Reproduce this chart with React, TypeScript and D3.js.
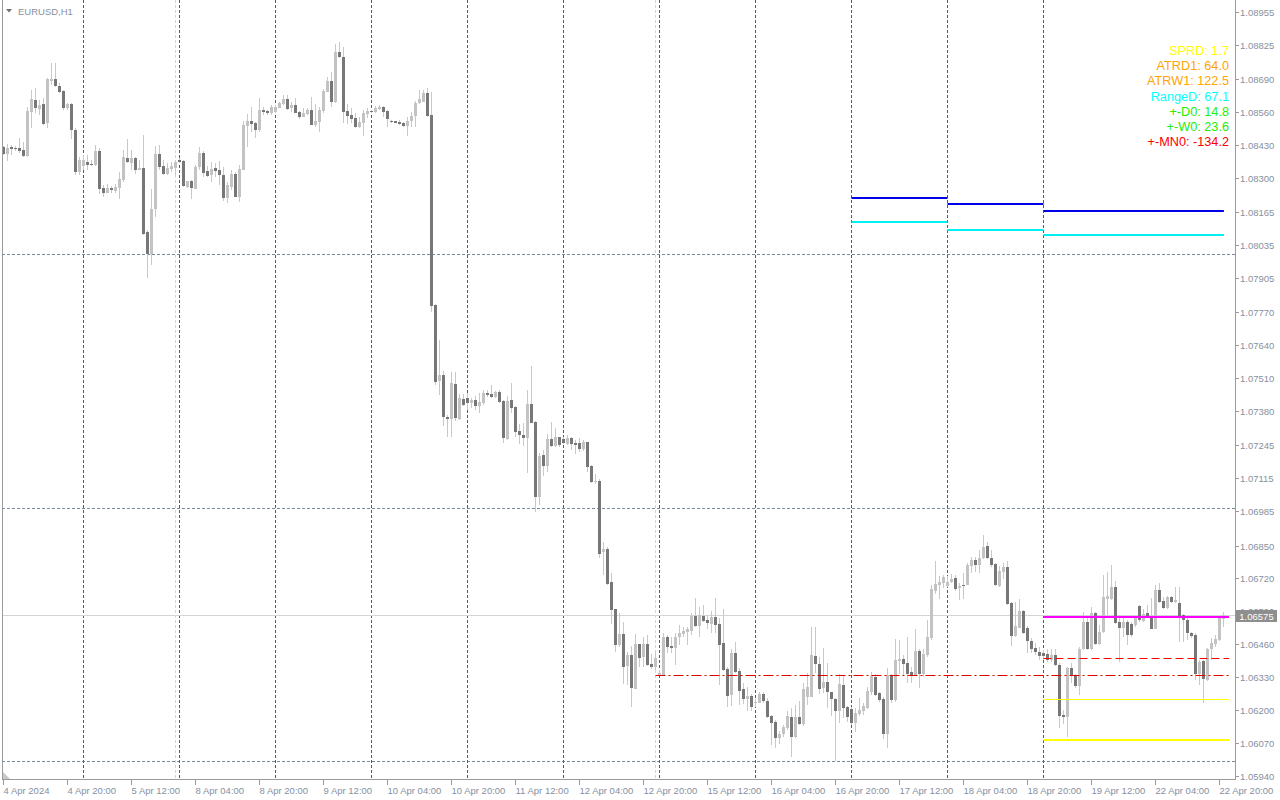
import React from "react";
import * as d3 from "d3";

// ---- EURUSD H1 bars (4 Apr 2024 04:00 -> 22 Apr 2024 21:00) ----
const opens = [
  1.08421,1.08396,1.08422,1.08418,1.08418,1.08410,1.08387,1.08561,1.08608,1.08573,
  1.08592,1.08518,1.08682,1.08690,1.08664,1.08643,1.08577,1.08592,1.08490,1.08325,
  1.08347,1.08363,1.08355,1.08351,1.08406,1.08260,1.08242,1.08262,1.08250,1.08262,
  1.08292,1.08379,1.08360,1.08379,1.08333,1.08339,1.08087,1.08000,1.08178,1.08395,
  1.08347,1.08316,1.08335,1.08339,1.08372,1.08368,1.08265,1.08288,1.08258,1.08343,
  1.08398,1.08327,1.08312,1.08340,1.08331,1.08312,1.08222,1.08265,1.08316,1.08226,
  1.08331,1.08506,1.08526,1.08516,1.08489,1.08568,1.08564,1.08556,1.08561,1.08577,
  1.08592,1.08612,1.08576,1.08589,1.08561,1.08542,1.08553,1.08568,1.08510,1.08522,
  1.08565,1.08640,1.08684,1.08601,1.08798,1.08778,1.08564,1.08548,1.08538,1.08501,
  1.08518,1.08552,1.08564,1.08560,1.08573,1.08579,1.08564,1.08526,1.08523,1.08521,
  1.08517,1.08505,1.08525,1.08544,1.08597,1.08601,1.08636,1.08548,1.07799,1.07500,
  1.07523,1.07358,1.07350,1.07487,1.07349,1.07428,1.07432,1.07413,1.07424,1.07400,
  1.07413,1.07452,1.07448,1.07437,1.07456,1.07420,1.07270,1.07424,1.07396,1.07302,
  1.07286,1.07274,1.07408,1.07337,1.07043,1.07207,1.07164,1.07270,1.07243,1.07278,
  1.07270,1.07250,1.07274,1.07254,1.07254,1.07231,1.07258,1.07164,1.07102,1.07104,
  1.06824,1.06836,1.06706,1.06601,1.06458,1.06501,1.06375,1.06418,1.06285,1.06461,
  1.06411,1.06461,1.06383,1.06371,1.06339,1.06339,1.06490,1.06455,1.06447,1.06488,
  1.06501,1.06508,1.06514,1.06572,1.06534,1.06572,1.06556,1.06540,1.06569,1.06540,
  1.06465,1.06364,1.06261,1.06426,1.06355,1.06285,1.06243,1.06256,1.06229,1.06230,
  1.06264,1.06237,1.06177,1.06154,1.06092,1.06105,1.06131,1.06175,1.06096,1.06175,
  1.06145,1.06254,1.06254,1.06414,1.06381,1.06287,1.06310,1.06271,1.06245,1.06198,
  1.06300,1.06212,1.06204,1.06151,1.06185,1.06198,1.06210,1.06273,1.06331,1.06268,
  1.06245,1.06106,1.06339,1.06241,1.06394,1.06403,1.06387,1.06352,1.06339,1.06434,
  1.06343,1.06418,1.06486,1.06672,1.06694,1.06703,1.06691,1.06705,1.06723,1.06682,
  1.06694,1.06694,1.06770,1.06793,1.06773,1.06801,1.06848,1.06801,1.06777,1.06691,
  1.06747,1.06765,1.06623,1.06493,1.06526,1.06592,1.06525,1.06475,1.06446,1.06431,
  1.06425,1.06421,1.06398,1.06417,1.06379,1.06181,1.06172,1.06366,1.06335,1.06296,
  1.06442,1.06549,1.06442,1.06585,1.06461,1.06510,1.06640,1.06640,1.06688,1.06549,
  1.06523,1.06549,1.06540,1.06536,1.06611,1.06553,1.06585,1.06572,1.06522,1.06675,
  1.06632,1.06605,1.06646,1.06628,1.06624,1.06576,1.06556,1.06506,1.06497,1.06342,
  1.06394,1.06319,1.06442,1.06460,1.06477,1.06560,
];
const highs = [
  1.08426,1.08434,1.08430,1.08426,1.08458,1.08443,1.08581,1.08647,1.08655,1.08608,
  1.08615,1.08694,1.08752,1.08752,1.08673,1.08647,1.08595,1.08595,1.08496,1.08384,
  1.08391,1.08391,1.08371,1.08430,1.08418,1.08272,1.08276,1.08268,1.08276,1.08325,
  1.08410,1.08452,1.08410,1.08384,1.08371,1.08469,1.08095,1.08256,1.08426,1.08430,
  1.08371,1.08358,1.08364,1.08371,1.08378,1.08371,1.08288,1.08292,1.08351,1.08421,
  1.08408,1.08347,1.08364,1.08360,1.08367,1.08344,1.08285,1.08331,1.08325,1.08351,
  1.08526,1.08552,1.08581,1.08522,1.08614,1.08579,1.08568,1.08588,1.08588,1.08601,
  1.08627,1.08627,1.08601,1.08614,1.08565,1.08575,1.08575,1.08618,1.08592,1.08579,
  1.08650,1.08699,1.08719,1.08828,1.08838,1.08815,1.08592,1.08575,1.08555,1.08542,
  1.08568,1.08575,1.08568,1.08584,1.08588,1.08584,1.08568,1.08529,1.08526,1.08529,
  1.08522,1.08539,1.08561,1.08605,1.08647,1.08647,1.08654,1.08640,1.07803,1.07661,
  1.07540,1.07365,1.07534,1.07534,1.07448,1.07448,1.07450,1.07431,1.07440,1.07450,
  1.07464,1.07464,1.07483,1.07461,1.07464,1.07424,1.07440,1.07490,1.07400,1.07329,
  1.07332,1.07464,1.07558,1.07342,1.07214,1.07227,1.07290,1.07337,1.07314,1.07279,
  1.07279,1.07286,1.07279,1.07266,1.07273,1.07266,1.07260,1.07168,1.07132,1.07112,
  1.06863,1.06845,1.06740,1.06601,1.06583,1.06549,1.06431,1.06454,1.06501,1.06461,
  1.06490,1.06496,1.06422,1.06435,1.06359,1.06506,1.06497,1.06490,1.06504,1.06536,
  1.06527,1.06530,1.06585,1.06642,1.06609,1.06615,1.06576,1.06592,1.06642,1.06563,
  1.06600,1.06372,1.06441,1.06469,1.06366,1.06306,1.06293,1.06263,1.06246,1.06273,
  1.06273,1.06247,1.06181,1.06162,1.06119,1.06142,1.06197,1.06208,1.06221,1.06238,
  1.06306,1.06346,1.06529,1.06530,1.06411,1.06445,1.06385,1.06273,1.06247,1.06343,
  1.06339,1.06217,1.06214,1.06208,1.06247,1.06230,1.06293,1.06352,1.06343,1.06273,
  1.06254,1.06366,1.06343,1.06482,1.06477,1.06418,1.06488,1.06372,1.06522,1.06441,
  1.06441,1.06556,1.06694,1.06790,1.06730,1.06734,1.06730,1.06738,1.06734,1.06701,
  1.06740,1.06782,1.06803,1.06803,1.06832,1.06891,1.06865,1.06832,1.06782,1.06769,
  1.06782,1.06790,1.06628,1.06628,1.06638,1.06596,1.06533,1.06484,1.06467,1.06451,
  1.06438,1.06441,1.06441,1.06441,1.06385,1.06201,1.06372,1.06385,1.06343,1.06451,
  1.06589,1.06569,1.06609,1.06589,1.06536,1.06734,1.06747,1.06773,1.06711,1.06576,
  1.06569,1.06556,1.06549,1.06572,1.06615,1.06598,1.06615,1.06642,1.06694,1.06701,
  1.06648,1.06651,1.06651,1.06688,1.06685,1.06580,1.06563,1.06510,1.06504,1.06398,
  1.06398,1.06445,1.06484,1.06497,1.06572,1.06589,
];
const lows = [
  1.08391,1.08368,1.08391,1.08406,1.08398,1.08384,1.08384,1.08496,1.08556,1.08548,
  1.08509,1.08497,1.08667,1.08660,1.08634,1.08568,1.08568,1.08454,1.08312,1.08312,
  1.08331,1.08331,1.08347,1.08347,1.08237,1.08224,1.08239,1.08242,1.08242,1.08216,
  1.08285,1.08358,1.08331,1.08316,1.08331,1.08075,1.07904,1.07957,1.08147,1.08331,
  1.08310,1.08310,1.08325,1.08312,1.08360,1.08265,1.08259,1.08218,1.08255,1.08331,
  1.08305,1.08305,1.08285,1.08305,1.08272,1.08210,1.08200,1.08252,1.08224,1.08206,
  1.08331,1.08423,1.08482,1.08456,1.08482,1.08547,1.08550,1.08548,1.08557,1.08575,
  1.08589,1.08568,1.08561,1.08555,1.08531,1.08539,1.08548,1.08508,1.08502,1.08482,
  1.08555,1.08640,1.08581,1.08595,1.08772,1.08516,1.08513,1.08516,1.08496,1.08496,
  1.08466,1.08535,1.08556,1.08555,1.08568,1.08542,1.08502,1.08516,1.08516,1.08509,
  1.08502,1.08466,1.08502,1.08502,1.08592,1.08601,1.08539,1.07772,1.07483,1.07444,
  1.07321,1.07277,1.07279,1.07342,1.07345,1.07400,1.07385,1.07391,1.07385,1.07372,
  1.07404,1.07435,1.07431,1.07431,1.07413,1.07256,1.07266,1.07372,1.07279,1.07250,
  1.07243,1.07137,1.07332,1.06983,1.07010,1.07124,1.07141,1.07240,1.07240,1.07240,
  1.07250,1.07247,1.07227,1.07211,1.07220,1.07224,1.07141,1.07095,1.07093,1.06802,
  1.06734,1.06695,1.06540,1.06431,1.06451,1.06304,1.06300,1.06214,1.06283,1.06370,
  1.06372,1.06375,1.06362,1.06359,1.06335,1.06335,1.06425,1.06425,1.06379,1.06458,
  1.06490,1.06458,1.06497,1.06530,1.06490,1.06549,1.06519,1.06506,1.06504,1.06300,
  1.06356,1.06212,1.06217,1.06346,1.06221,1.06225,1.06198,1.06197,1.06214,1.06228,
  1.06230,1.06171,1.06063,1.06050,1.06066,1.06096,1.06122,1.06015,1.06089,1.06142,
  1.06138,1.06220,1.06252,1.06346,1.06264,1.06267,1.06208,1.06177,1.06001,1.06149,
  1.06168,1.06155,1.06142,1.06116,1.06177,1.06181,1.06204,1.06260,1.06256,1.06234,
  1.06085,1.06050,1.06230,1.06234,1.06343,1.06339,1.06309,1.06306,1.06336,1.06287,
  1.06333,1.06411,1.06477,1.06659,1.06638,1.06681,1.06688,1.06701,1.06672,1.06635,
  1.06638,1.06694,1.06743,1.06747,1.06740,1.06796,1.06796,1.06766,1.06690,1.06688,
  1.06717,1.06615,1.06454,1.06490,1.06523,1.06501,1.06425,1.06425,1.06418,1.06398,
  1.06398,1.06392,1.06392,1.06375,1.06129,1.06145,1.06096,1.06306,1.06287,1.06260,
  1.06438,1.06438,1.06438,1.06458,1.06458,1.06506,1.06576,1.06635,1.06540,1.06392,
  1.06490,1.06458,1.06490,1.06530,1.06549,1.06549,1.06563,1.06519,1.06519,1.06624,
  1.06598,1.06598,1.06624,1.06624,1.06471,1.06471,1.06477,1.06484,1.06319,1.06300,
  1.06230,1.06315,1.06398,1.06451,1.06475,1.06530,
];
const closes = [
  1.08396,1.08418,1.08414,1.08415,1.08408,1.08387,1.08565,1.08612,1.08577,1.08588,
  1.08514,1.08690,1.08690,1.08664,1.08638,1.08577,1.08592,1.08490,1.08325,1.08371,
  1.08372,1.08351,1.08351,1.08406,1.08258,1.08242,1.08260,1.08254,1.08265,1.08297,
  1.08383,1.08364,1.08379,1.08333,1.08339,1.08080,1.08000,1.08178,1.08395,1.08343,
  1.08316,1.08340,1.08347,1.08363,1.08364,1.08268,1.08288,1.08262,1.08343,1.08398,
  1.08321,1.08309,1.08335,1.08329,1.08312,1.08222,1.08272,1.08316,1.08226,1.08335,
  1.08509,1.08526,1.08513,1.08489,1.08568,1.08560,1.08556,1.08581,1.08581,1.08597,
  1.08612,1.08572,1.08589,1.08557,1.08542,1.08556,1.08568,1.08510,1.08525,1.08568,
  1.08644,1.08684,1.08601,1.08798,1.08776,1.08561,1.08544,1.08534,1.08501,1.08521,
  1.08557,1.08565,1.08560,1.08575,1.08581,1.08560,1.08534,1.08521,1.08518,1.08513,
  1.08505,1.08525,1.08544,1.08597,1.08610,1.08636,1.08546,1.07796,1.07496,1.07523,
  1.07358,1.07350,1.07492,1.07354,1.07432,1.07404,1.07413,1.07424,1.07400,1.07416,
  1.07452,1.07445,1.07437,1.07456,1.07416,1.07274,1.07420,1.07393,1.07298,1.07286,
  1.07274,1.07408,1.07335,1.07043,1.07203,1.07164,1.07270,1.07243,1.07278,1.07247,
  1.07254,1.07274,1.07250,1.07247,1.07231,1.07258,1.07160,1.07101,1.07104,1.06818,
  1.06836,1.06698,1.06596,1.06458,1.06501,1.06372,1.06418,1.06289,1.06461,1.06407,
  1.06461,1.06379,1.06371,1.06405,1.06346,1.06490,1.06451,1.06447,1.06490,1.06504,
  1.06514,1.06519,1.06572,1.06534,1.06576,1.06553,1.06543,1.06569,1.06538,1.06458,
  1.06360,1.06258,1.06427,1.06352,1.06277,1.06243,1.06258,1.06214,1.06231,1.06264,
  1.06238,1.06175,1.06151,1.06092,1.06106,1.06134,1.06177,1.06096,1.06175,1.06145,
  1.06284,1.06293,1.06418,1.06381,1.06285,1.06310,1.06271,1.06243,1.06198,1.06304,
  1.06210,1.06175,1.06151,1.06190,1.06201,1.06217,1.06276,1.06335,1.06261,1.06241,
  1.06106,1.06339,1.06241,1.06398,1.06403,1.06383,1.06343,1.06339,1.06434,1.06343,
  1.06422,1.06490,1.06677,1.06698,1.06707,1.06727,1.06707,1.06718,1.06680,1.06690,
  1.06691,1.06773,1.06793,1.06773,1.06801,1.06843,1.06802,1.06773,1.06694,1.06751,
  1.06765,1.06620,1.06493,1.06533,1.06592,1.06506,1.06475,1.06441,1.06430,1.06414,
  1.06414,1.06398,1.06417,1.06379,1.06179,1.06172,1.06366,1.06335,1.06296,1.06442,
  1.06549,1.06442,1.06585,1.06461,1.06510,1.06648,1.06651,1.06688,1.06543,1.06523,
  1.06549,1.06497,1.06497,1.06563,1.06556,1.06580,1.06572,1.06522,1.06675,1.06628,
  1.06605,1.06646,1.06628,1.06635,1.06573,1.06556,1.06506,1.06494,1.06342,1.06392,
  1.06323,1.06442,1.06464,1.06481,1.06563,1.06575,
];

// ---- axis labels ----
const timeLabels = [
  "4 Apr 2024", "4 Apr 20:00", "5 Apr 12:00", "8 Apr 04:00", "8 Apr 20:00",
  "9 Apr 12:00", "10 Apr 04:00", "10 Apr 20:00", "11 Apr 12:00", "12 Apr 04:00",
  "12 Apr 20:00", "15 Apr 12:00", "16 Apr 04:00", "16 Apr 20:00", "17 Apr 12:00",
  "18 Apr 04:00", "18 Apr 20:00", "19 Apr 12:00", "22 Apr 04:00", "22 Apr 20:00",
];
const timeLabelStep = 16; // bars between time labels
const priceTicks = [
  1.08955, 1.08825, 1.0869, 1.0856, 1.0843, 1.083, 1.08165, 1.08035, 1.07905, 1.0777,
  1.0764, 1.0751, 1.0738, 1.07245, 1.07115, 1.06985, 1.0685, 1.0672, 1.0659, 1.0646,
  1.0633, 1.062, 1.0607, 1.0594,
];
const gridPrices = [1.08, 1.07, 1.06];
const separatorBars = [20, 44, 68, 92, 116, 140, 164, 188, 212, 236, 260];
const weekMarkerBars = [43, 163];

// ---- indicator levels ----
const blueLevels = [
  { from: 212, to: 236, price: 1.08221 },
  { from: 236, to: 260, price: 1.08197 },
  { from: 260, to: 305.1, price: 1.0817 },
];
const cyanLevels = [
  { from: 212, to: 236, price: 1.08126 },
  { from: 236, to: 260, price: 1.08095 },
  { from: 260, to: 305.1, price: 1.08075 },
];
const levelLines = [
  { from: 260, to: 306.4, price: 1.06568, color: "#ff00ff", width: 2, dash: "" },
  { from: 260, to: 306.4, price: 1.06406, color: "#ff0000", width: 1, dash: "8,4" },
  { from: 163, to: 306.4, price: 1.06339, color: "#e00000", width: 1, dash: "10,3,2,3" },
  { from: 260, to: 306.4, price: 1.06245, color: "#ffff00", width: 1, dash: "" },
  { from: 260, to: 306.4, price: 1.06081, color: "#ffff00", width: 2, dash: "" },
];
const bidPrice = 1.06575;

const legendLabels = ["SPRD", "ATRD1", "ATRW1", "RangeD", "+-D0", "+-W0", "+-MN0"];
const legendValues = ["1.7", "64.0", "122.5", "67.1", "14.8", "23.6", "-134.2"];
const legendColors = ["#ffff00", "#ffa500", "#ffa500", "#00ffff", "#22ee00", "#22ee00", "#ff0000"];

const FONT = "'Liberation Sans', Arial, sans-serif";
const AXIS_COLOR = "#8790a0";

export default function App() {
  const W = 1280;
  const H = 800;
  const plotLeft = 2;
  const plotRight = 1235;
  const plotBottom = 779;
  const N = opens.length;

  const x = d3.scaleLinear().domain([0, N - 1]).range([3.5, 3.5 + 4 * (N - 1)]);
  const y = d3.scaleLinear().domain([1.06, 1.08]).range([761, 254]);

  const bars = d3.range(N).map((i) => {
    const o = opens[i];
    const c = closes[i];
    const h = Math.max(highs[i], o, c);
    const l = Math.min(lows[i], o, c);
    return { i, o, c, h, l, up: c >= o };
  });

  const yr = (p: number) => Math.round(y(p));

  return (
    <svg
      width={W}
      height={H}
      style={{ position: "absolute", left: 0, top: 0, background: "#ffffff" }}
      fontFamily={FONT}
    >
      <rect x={0} y={0} width={W} height={H} fill="#ffffff" />

      {/* horizontal grid */}
      {gridPrices.map((p) => (
        <line
          key={"g" + p}
          x1={plotLeft}
          x2={plotRight}
          y1={yr(p) + 0.5}
          y2={yr(p) + 0.5}
          stroke="#7a8899"
          strokeDasharray="3,2"
        />
      ))}
      {/* day separators */}
      {separatorBars.map((b) => (
        <line
          key={"s" + b}
          x1={x(b)}
          x2={x(b)}
          y1={0}
          y2={plotBottom}
          stroke="#5a5a5a"
          strokeDasharray="3,2"
        />
      ))}
      {weekMarkerBars.map((b) => (
        <line
          key={"w" + b}
          x1={x(b)}
          x2={x(b)}
          y1={0}
          y2={plotBottom}
          stroke="#f2ee00"
          strokeDasharray="3,2"
        />
      ))}

      {/* bid line */}
      <line
        x1={plotLeft}
        x2={plotRight}
        y1={yr(bidPrice) + 0.5}
        y2={yr(bidPrice) + 0.5}
        stroke="#d4d4d4"
      />

      {/* candles */}
      <g shapeRendering="crispEdges">
        {bars.map((b) => {
          const xc = x(b.i);
          const yh = yr(b.h);
          const yl = yr(b.l);
          return (
            <rect key={"wk" + b.i} x={xc - 0.5} y={yh} width={1} height={Math.max(1, yl - yh)} fill="#c8c8c8" />
          );
        })}
        {bars.map((b) => {
          const xc = x(b.i);
          const yt = yr(Math.max(b.o, b.c));
          const yb = yr(Math.min(b.o, b.c));
          return (
            <rect
              key={"bd" + b.i}
              x={xc - 1.5}
              y={yt}
              width={3}
              height={Math.max(1, yb - yt)}
              fill={b.up ? "#c3c3c3" : "#777777"}
            />
          );
        })}
      </g>

      {/* indicator levels */}
      {blueLevels.map((s, k) => (
        <line key={"bl" + k} x1={x(s.from)} x2={x(s.to)} y1={yr(s.price)} y2={yr(s.price)} stroke="#0000e6" strokeWidth={2} />
      ))}
      {cyanLevels.map((s, k) => (
        <line key={"cy" + k} x1={x(s.from)} x2={x(s.to)} y1={yr(s.price)} y2={yr(s.price)} stroke="#00f0f0" strokeWidth={2} />
      ))}
      {levelLines.map((s, k) => {
        const yy = s.width === 1 ? yr(s.price) + 0.5 : yr(s.price);
        return (
          <line
            key={"lv" + k}
            x1={x(s.from)}
            x2={x(s.to)}
            y1={yy}
            y2={yy}
            stroke={s.color}
            strokeWidth={s.width}
            strokeDasharray={s.dash || undefined}
          />
        );
      })}

      {/* frame */}
      <line x1={plotLeft + 0.5} x2={plotLeft + 0.5} y1={0} y2={plotBottom + 1} stroke="#9a9a9a" />
      <line x1={plotRight + 0.5} x2={plotRight + 0.5} y1={0} y2={plotBottom + 1} stroke="#9a9a9a" />
      <line x1={plotLeft} x2={plotRight + 1} y1={plotBottom + 0.5} y2={plotBottom + 0.5} stroke="#9a9a9a" />
      <polygon points={`${plotLeft + 1},${plotBottom - 7} ${plotLeft + 1},${plotBottom} ${plotLeft + 8},${plotBottom}`} fill="#c8c8c8" />

      {/* price axis */}
      {priceTicks.map((p) => (
        <g key={"pt" + p}>
          <line x1={plotRight + 1} x2={plotRight + 4} y1={yr(p) + 0.5} y2={yr(p) + 0.5} stroke="#9a9a9a" />
          <text x={plotRight + 5} y={yr(p) + 3.5} fontSize={9.5} fill={AXIS_COLOR}>
            {p.toFixed(5)}
          </text>
        </g>
      ))}
      {/* bid price tag */}
      <rect x={plotRight + 1} y={yr(bidPrice) - 5} width={41} height={12} fill="#8e8e8e" />
      <text x={plotRight + 21.5} y={yr(bidPrice) + 4.5} fontSize={9.5} fill="#ffffff" textAnchor="middle">
        {bidPrice.toFixed(5)}
      </text>

      {/* time axis */}
      {timeLabels.map((t, k) => {
        const xi = x(k * timeLabelStep);
        return (
          <g key={"tl" + k}>
            <line x1={xi} x2={xi} y1={plotBottom + 1} y2={plotBottom + 6} stroke="#9a9a9a" />
            <text x={xi} y={plotBottom + 15} fontSize={9.5} fill={AXIS_COLOR}>
              {t}
            </text>
          </g>
        );
      })}

      {/* title */}
      <polygon points="6,9 12,9 9,12.5" fill="#707070" />
      <text x={18} y={14.5} fontSize={9.5} fill={AXIS_COLOR}>
        EURUSD,H1
      </text>

      {/* info legend */}
      {legendLabels.map((l, k) => (
        <text
          key={"lg" + k}
          x={1229}
          y={55 + k * 15.2}
          fontSize={12.7}
          fill={legendColors[k]}
          textAnchor="end"
        >
          {`${l}: ${legendValues[k]}`}
        </text>
      ))}
    </svg>
  );
}
